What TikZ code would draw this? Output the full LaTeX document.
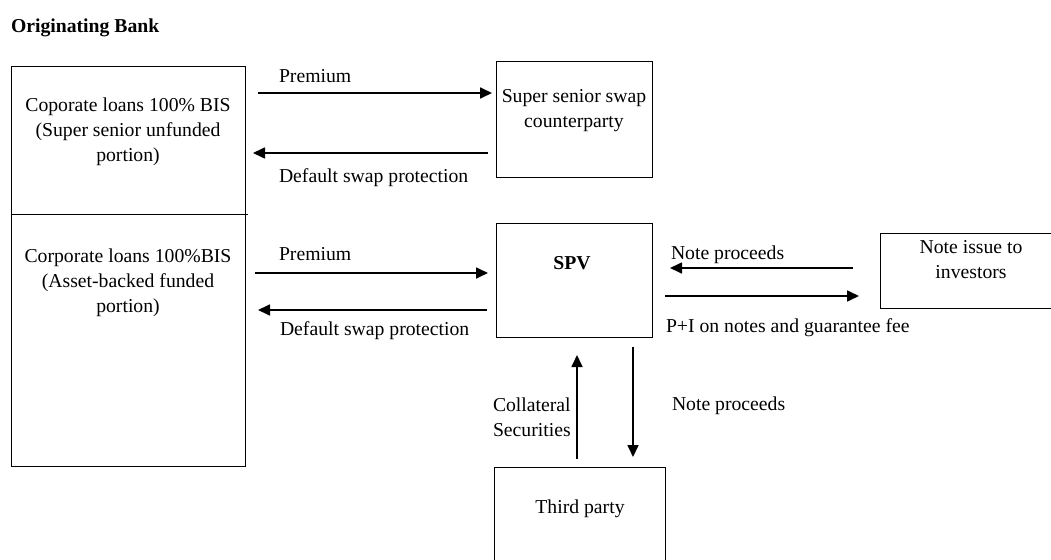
\documentclass[tikz,border=0pt]{standalone}
\usepackage{fontspec}
\setmainfont{Liberation Serif}
\usetikzlibrary{arrows.meta}
\begin{document}
\begin{tikzpicture}[x=1pt,y=-1pt,
  box/.style={draw,line width=0.9pt,inner sep=0pt,outer sep=0pt,anchor=north west},
  flow/.style={line width=1.7pt,-{Triangle[length=12pt,width=11pt]}},
  txt/.style={font=\fontsize{19.7}{25}\selectfont,inner sep=0pt,outer sep=0pt},
  lbl/.style={txt,anchor=base west},
  boxtext/.style={txt,anchor=base,align=center}]
\useasboundingbox (0,0) rectangle (1051,559);

% title
\node[lbl,font=\fontsize{19.7}{25}\selectfont\bfseries] (title) at (11,33) {Originating Bank};

% boxes
\node[box,minimum width=234pt,minimum height=400pt] (bank) at (11,66) {};
\draw[line width=0.9pt] (11,214) -- (248,214);
\node[box,minimum width=156pt,minimum height=116pt] (swapcp) at (496,61) {};
\node[box,minimum width=156pt,minimum height=114pt] (spv) at (496,223) {};
\node[box,minimum width=182pt,minimum height=75pt] (issue) at (880,233) {};
\node[box,minimum width=171pt,minimum height=113pt] (third) at (494,467) {};

% box texts (anchored at the baseline of their last line)
\node[boxtext] (senior) at (128,161) {Coporate loans 100\% BIS\\(Super senior unfunded\\portion)};
\node[boxtext] (funded) at (128,312) {Corporate loans 100\%BIS\\(Asset-backed funded\\portion)};
\node[boxtext] (swaptxt) at (574,128) {Super senior swap\\counterparty};
\node[boxtext,font=\fontsize{19.7}{25}\selectfont\bfseries] (spvtxt) at (572,269) {SPV};
\node[boxtext] (issuetxt) at (971,278) {Note issue to\\investors};
\node[boxtext] (thirdtxt) at (580,513) {Third party};

% connector end points
\coordinate (pa1) at (258,93);  \coordinate (pb1) at (492,93);
\coordinate (da1) at (488,153); \coordinate (db1) at (253,153);
\coordinate (pa2) at (255,273); \coordinate (pb2) at (488,273);
\coordinate (da2) at (487,310); \coordinate (db2) at (258,310);
\coordinate (na) at (853,268);  \coordinate (nb) at (670,268);
\coordinate (ia) at (665,296);  \coordinate (ib) at (859,296);
\coordinate (ca) at (577,459);  \coordinate (cb) at (577,355);
\coordinate (qa) at (633,347);  \coordinate (qb) at (633,457);

% flows
\draw[flow] (pa1) -- (pb1);
\draw[flow] (da1) -- (db1);
\draw[flow] (pa2) -- (pb2);
\draw[flow] (da2) -- (db2);
\draw[flow] (na) -- (nb);
\draw[flow] (ia) -- (ib);
\draw[flow] (ca) -- (cb);
\draw[flow] (qa) -- (qb);

% flow labels
\node[lbl] (l1) at (279,83) {Premium};
\node[lbl] (l2) at (279,182) {Default swap protection};
\node[lbl] (l3) at (279,260) {Premium};
\node[lbl] (l4) at (280,335) {Default swap protection};
\node[lbl] (l5) at (671,259) {Note proceeds};
\node[lbl] (l6) at (666,332) {P+I on notes and guarantee fee};
\node[lbl,align=left] (l7) at (493,436) {Collateral\\Securities};
\node[lbl] (l8) at (672,410) {Note proceeds};
\end{tikzpicture}
\end{document}
